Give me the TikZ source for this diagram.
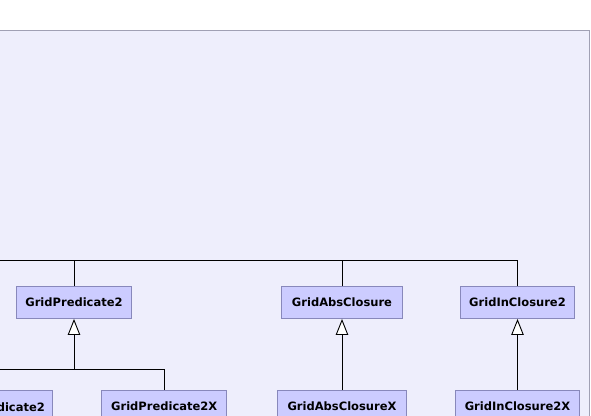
\documentclass[tikz,border=0pt]{standalone}
\usepackage{fontspec}
\setmainfont{DejaVu Sans}
\usetikzlibrary{arrows.meta}
\definecolor{panelfill}{HTML}{EEEEFC}
\definecolor{panelline}{HTML}{A0A0B4}
\definecolor{classfill}{HTML}{CCCCFF}
\definecolor{classline}{HTML}{8888BB}
\tikzset{
  classbox/.style={draw=classline, fill=classfill, line width=0.9bp,
    minimum height=32bp, inner sep=0pt,
    font=\bfseries\fontsize{11.5bp}{13bp}\selectfont},
  link/.style={draw=black, line width=0.9bp},
  inherit/.style={link, -{Triangle[length=16bp, width=12.5bp, fill=white]}},
}
\begin{document}
\begin{tikzpicture}[x=1bp, y=-1bp]
  \useasboundingbox (0,0) rectangle (591,415);
  \clip (0,0) rectangle (591,415);
  % package panel
  \fill[white] (0,0) rectangle (591,415);
  \draw[panelline, fill=panelfill, line width=1bp] (-10,30.5) rectangle (589.5,430);

  % upper row
  \node[classbox, minimum width=115bp]   (gp2)  at (74,302.5)  {GridPredicate2};
  \node[classbox, minimum width=120.6bp] (gac)  at (342,302.5) {GridAbsClosure};
  \node[classbox, minimum width=113.7bp] (gic2) at (517.5,302.5) {GridInClosure2};

  % lower row
  \node[classbox, minimum width=112bp, anchor=north east] (gpl) at (52.7,390.3) {GridPredicate2};
  \node[classbox, minimum width=125bp]   (gp2x) at (164.2,406.3) {GridPredicate2X};
  \node[classbox, minimum width=129bp]   (gacx) at (342,406.3)   {GridAbsClosureX};
  \node[classbox, minimum width=124bp]   (gicx) at (517.5,406.3) {GridInClosure2X};

  % common parent, outside the visible area
  \coordinate (base) at (-20,260);
  \coordinate (sub)  at (-20,369);

  % links of the upper row to their common parent
  \draw[link] (gic2.north) |- (base);
  \draw[link] (gac.north) -- (gac.north |- base);
  \draw[link] (gp2.north) -- (gp2.north |- base);

  % inheritance arrows
  \draw[link] (gpl.north) |- (sub);
  \draw[inherit] (gp2x.north) |- (gp2.south |- sub) -- (gp2.south);
  \draw[link] (gpl.north |- sub) -- (gp2.south |- sub);
  \draw[inherit] (gacx.north) -- (gac.south);
  \draw[inherit] (gicx.north) -- (gic2.south);
\end{tikzpicture}
\end{document}
